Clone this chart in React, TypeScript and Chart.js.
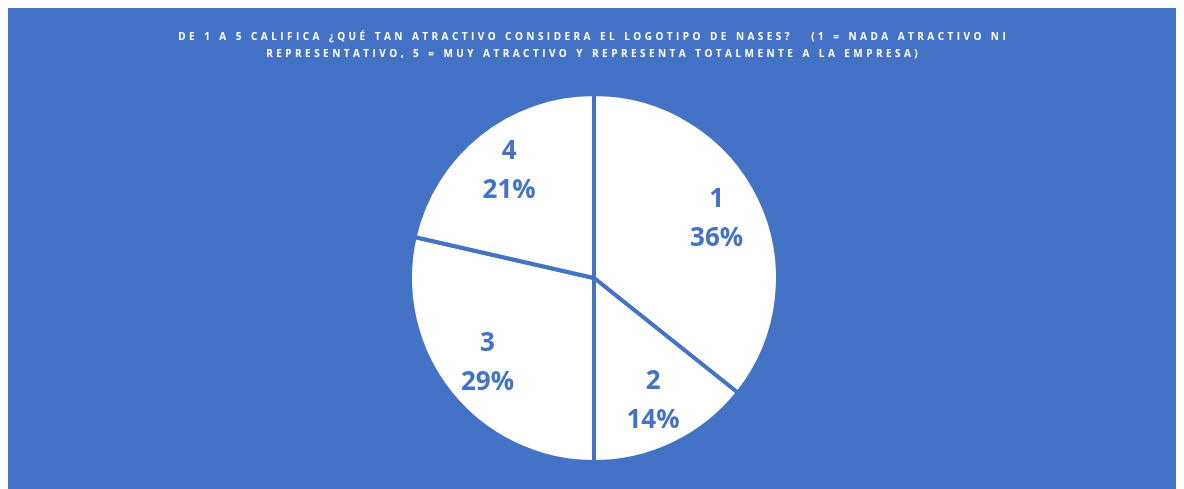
import React, { useEffect, useRef } from "react";
import { Chart, registerables } from "chart.js";

Chart.register(...registerables);

const categories = ["1", "2", "3", "4"];
const counts = [5, 2, 4, 3];
const titleLines = [
  "DE 1 A 5 CALIFICA ¿QUÉ TAN ATRACTIVO CONSIDERA EL LOGOTIPO DE NASES?   (1 = NADA ATRACTIVO NI",
  "REPRESENTATIVO, 5 = MUY ATRACTIVO Y REPRESENTA TOTALMENTE A LA EMPRESA)",
];

const BLUE = "#4472C4";

const bgPlugin = {
  id: "bgFill",
  beforeDraw(chart: any) {
    const ctx = chart.ctx;
    ctx.save();
    ctx.fillStyle = BLUE;
    ctx.fillRect(0, 0, chart.width, chart.height);
    ctx.restore();
  },
};

const titlePlugin = {
  id: "spacedTitle",
  afterDraw(chart: any) {
    const ctx = chart.ctx;
    ctx.save();
    ctx.fillStyle = "#FFFFFF";
    ctx.font = "bold 10px 'Open Sans'";
    (ctx as any).letterSpacing = "3.45px";
    ctx.textAlign = "center";
    ctx.textBaseline = "middle";
    const cx = chart.width / 2;
    titleLines.forEach((line, i) => {
      ctx.fillText(line, cx + 1.7, 29 + i * 17.5);
    });
    ctx.restore();
  },
};

const labelPlugin = {
  id: "sliceLabels",
  afterDatasetsDraw(chart: any) {
    const ctx = chart.ctx;
    const meta = chart.getDatasetMeta(0);
    const data = chart.data.datasets[0].data as number[];
    const total = data.reduce((a, b) => a + b, 0);
    ctx.save();
    ctx.fillStyle = BLUE;
    ctx.font = "bold 26px 'Open Sans'";
    ctx.textAlign = "center";
    ctx.textBaseline = "middle";
    meta.data.forEach((arc: any, i: number) => {
      const { x, y, startAngle, endAngle, outerRadius } = arc.getProps(
        ["x", "y", "startAngle", "endAngle", "outerRadius"],
        true
      );
      const mid = (startAngle + endAngle) / 2;
      const r = outerRadius * 0.74;
      const lx = x + Math.cos(mid) * r;
      const ly = y + Math.sin(mid) * r;
      const pct = Math.round((data[i] / total) * 100) + "%";
      ctx.fillText(chart.data.labels[i], lx, ly - 19.5);
      ctx.fillText(pct, lx, ly + 19.5);
    });
    ctx.restore();
  },
};

export default function App() {
  const ref = useRef<HTMLCanvasElement | null>(null);
  useEffect(() => {
    if (!ref.current) return;
    const chart = new Chart(ref.current, {
      type: "pie",
      data: {
        labels: categories,
        datasets: [
          {
            data: counts,
            backgroundColor: "#FFFFFF",
            borderColor: BLUE,
            borderWidth: 4,
          },
        ],
      },
      options: {
        animation: false,
        responsive: false,
        maintainAspectRatio: false,
        layout: { padding: { top: 84, bottom: 34, left: 4, right: 0 } },
        plugins: {
          legend: { display: false },
          title: { display: false },
          tooltip: { enabled: false },
        },
      },
      plugins: [bgPlugin, titlePlugin, labelPlugin],
    });
    return () => chart.destroy();
  }, []);
  return (
    <div style={{ width: 1168, height: 490 }}>
      <canvas ref={ref} width={1168} height={490} style={{ display: "block" }} />
    </div>
  );
}
